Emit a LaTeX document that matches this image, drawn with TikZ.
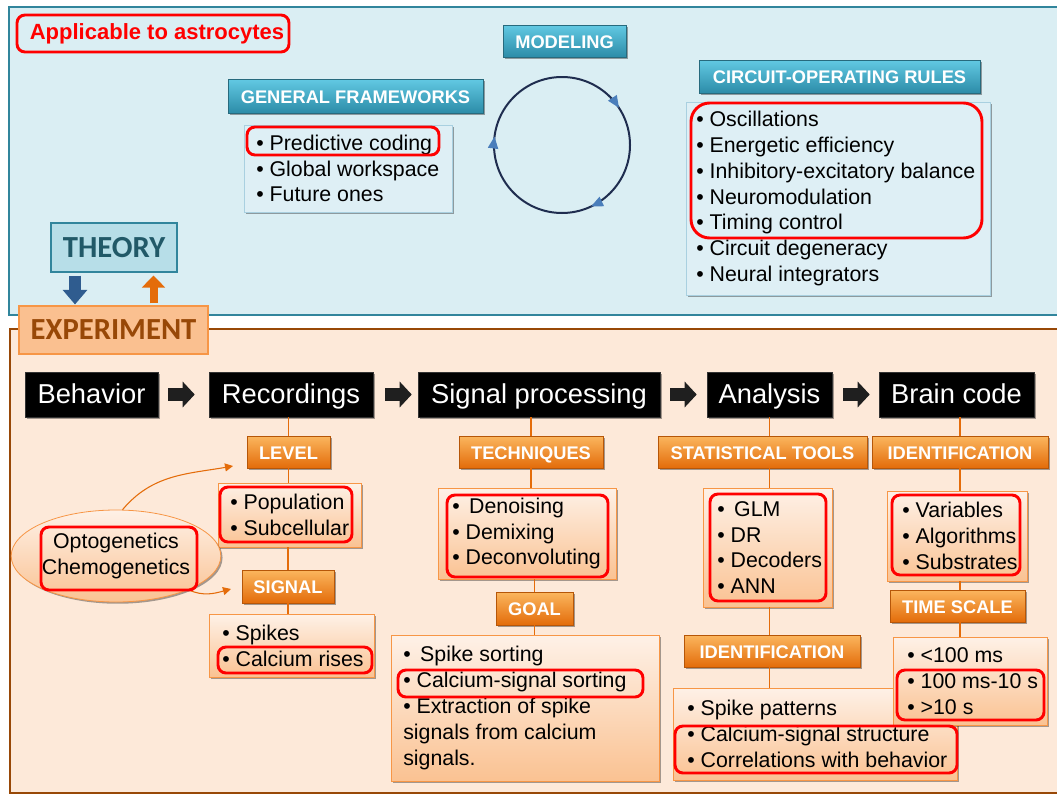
\documentclass[tikz,border=0pt]{standalone}
\usepackage{fontspec}
\setmainfont{Liberation Sans}
\newfontfamily\calfont{Carlito}
\usetikzlibrary{shadows,arrows.meta,decorations.markings,calc,shapes.geometric}
\definecolor{panelblue}{HTML}{DAEEF3}
\definecolor{tealborder}{HTML}{31859C}
\definecolor{tealtop}{HTML}{62C9E3}
\definecolor{tealbot}{HTML}{2C8CA8}
\definecolor{listblue}{HTML}{DEEFF5}
\definecolor{listblueb}{HTML}{A9D0E0}
\definecolor{theoryfill}{HTML}{B7DEE8}
\definecolor{theorytext}{HTML}{215968}
\definecolor{panelorange}{HTML}{FDE9D9}
\definecolor{brownb}{HTML}{984807}
\definecolor{expfill}{HTML}{FAC090}
\definecolor{expborder}{HTML}{F79646}
\definecolor{orgtop}{HTML}{FBB65E}
\definecolor{orgbot}{HTML}{E36C0A}
\definecolor{orgline}{HTML}{E46C0A}
\definecolor{lighttop}{HTML}{FEF1E7}
\definecolor{lightbot}{HTML}{FAC292}
\definecolor{hlred}{HTML}{FF0000}
\definecolor{circnavy}{HTML}{1F2D4F}
\definecolor{circblue}{HTML}{4A7EBB}
\definecolor{downblue}{HTML}{2F5C8F}

\newcommand\lfnt{\fontsize{16}{19.4}\selectfont}
\newcommand\hfnt{\fontsize{13.7}{16}\selectfont\bfseries}
\newcommand\pfnt{\fontsize{20.5}{24}\selectfont}

% name, style, x1, y1, x2, y2, text
\newcommand\mkbox[7]{\node[#2, minimum width={(#5-#3)*0.75pt}, minimum height={(#6-#4)*0.75pt}] (#1) at ({(#3+#5)/2},{(#4+#6)/2}) {#7};}
% name, x1, y1, x2, y2, pad, style, text
\newcommand\mklist[8]{\mkbox{#1}{#7}{#2}{#3}{#4}{#5}{}\node[listtext, anchor=west] (#1t) at ({#2+#6},{(#3+#5)/2}) {#8};}
\newcommand\redbx[5][6pt]{\draw[hl, rounded corners=#1] (#2,#3) rectangle (#4,#5);}

\tikzset{
 shad/.style={drop shadow={shadow xshift=1.3pt, shadow yshift=-1.3pt, opacity=0.35, fill=black}},
 hdrT/.style={draw=tealborder!80!black, line width=0.4pt, top color=tealtop, bottom color=tealbot, text=white, font=\hfnt, inner sep=0, text height=11.5pt, text depth=0.5pt, shad},
 hdrO/.style={draw=orgbot!80!black, line width=0.4pt, top color=orgtop, bottom color=orgbot, text=white, font=\hfnt, inner sep=0, text height=11.5pt, text depth=0.5pt, shad},
 lstT/.style={draw=listblueb, line width=0.6pt, fill=listblue, inner sep=0, shad},
 lstO/.style={draw=expborder, line width=0.6pt, top color=lighttop, bottom color=lightbot, inner sep=0, shad},
 blk/.style={fill=black, draw=black!80, text=white, font=\pfnt, inner sep=0, text height=15pt, text depth=2.25pt, shad},
 listtext/.style={font=\lfnt, align=left, inner sep=0, text=black},
 hl/.style={draw=hlred, line width=2.2pt},
 conn/.style={draw=orgline, line width=1pt},
 blockarr/.style={draw=black!88, line width=9.75pt, -{Triangle[length=9pt,width=18.75pt]}},
 curvarr/.style={draw=orgline, line width=0.8pt, -{Triangle[length=6pt,width=6pt]}},
 circtip/.style={circblue},
}

\begin{document}
\begin{tikzpicture}[x=0.75pt,y=-0.75pt]
\useasboundingbox (0,0) rectangle (1057,796);
\clip (0,0) rectangle (1057,796);
\fill[white] (0,0) rectangle (1057,796);

% panels
\draw[draw=tealborder, line width=2.2pt, fill=panelblue] (9,7) rectangle (1080,315);
\draw[draw=brownb, line width=2.2pt, fill=panelorange] (10,329) rectangle (1080,793);

% astrocytes label
\mkbox{astro}{hl, rounded corners=6pt, text=hlred, font=\fontsize{16.5}{18}\selectfont\bfseries, inner sep=0}{17}{15}{289}{52}{\hspace{6pt}Applicable to astrocytes}

% theory / experiment
\mkbox{theory}{draw=tealborder, line width=0.8pt, fill=theoryfill, text=theorytext, font=\calfont\bfseries\fontsize{23}{26}\selectfont, inner sep=0}{51}{223}{177}{272}{THEORY}
\mkbox{exp}{draw=expborder, line width=0.8pt, fill=expfill, text=brownb, font=\calfont\bfseries\fontsize{23}{26}\selectfont, inner sep=0}{19}{306}{208}{354}{EXPERIMENT}
\draw[draw=downblue, line width=9pt, -{Triangle[length=11pt,width=18pt]}] ($(theory.south)+(-39,3)$) -- ($(exp.north)+(-38.5,-1)$);
\draw[draw=orgline, line width=6pt, -{Triangle[length=9pt,width=17pt]}] ($(exp.north)+(40,-2)$) -- ($(theory.south)+(39.5,3)$);

% top section
\mkbox{model}{hdrT}{503}{25}{626}{57}{MODELING}
\mkbox{genfw}{hdrT}{228}{79}{483}{113}{GENERAL FRAMEWORKS}
\mkbox{circrules}{hdrT}{699}{60}{980}{93}{CIRCUIT-OPERATING RULES}
\mklist{genlist}{244}{125}{452}{212}{12}{lstT}{• Predictive coding\\• Global workspace\\• Future ones}
\mklist{circlist}{686}{102}{990}{295}{10}{lstT}{• Oscillations\\• Energetic efficiency\\• Inhibitory-excitatory balance\\• Neuromodulation\\• Timing control\\• Circuit degeneracy\\• Neural integrators}

\draw[circnavy, line width=1.5pt, postaction={decorate}, decoration={markings,
  mark=at position 0.158 with {\arrow[circtip]{Triangle[length=9pt,width=7.5pt]}},
  mark=at position 0.43 with {\arrow[circtip]{Triangle[length=9pt,width=7.5pt]}},
  mark=at position 0.77 with {\arrow[circtip]{Triangle[length=9pt,width=7.5pt]}}}]
  (562,77) arc[start angle=-90, end angle=270, radius=68];

% pipeline
\mkbox{beh}{blk}{25}{372}{158}{417}{Behavior}
\mkbox{rec}{blk}{209}{372}{373}{417}{Recordings}
\mkbox{sp}{blk}{418}{372}{660}{417}{Signal processing}
\mkbox{ana}{blk}{707}{372}{832}{417}{Analysis}
\mkbox{brain}{blk}{879}{372}{1034}{417}{Brain code}
\draw[blockarr] ([xshift=7.5pt]beh.east) -- ([xshift=-10.5pt]rec.west);
\draw[blockarr] ([xshift=9pt]rec.east) -- ([xshift=-4.5pt]sp.west);
\draw[blockarr] ([xshift=7.5pt]sp.east) -- ([xshift=-7.5pt]ana.west);
\draw[blockarr] ([xshift=8.25pt]ana.east) -- ([xshift=-6.75pt]brain.west);

% orange headers
\mkbox{level}{hdrO}{247}{436}{330}{468}{LEVEL}
\mkbox{signal}{hdrO}{242}{570}{334}{603}{SIGNAL}
\mkbox{tech}{hdrO}{459}{436}{603}{468}{TECHNIQUES}
\mkbox{goal}{hdrO}{496}{592}{573}{625}{GOAL}
\mkbox{stat}{hdrO}{658}{436}{867}{468}{STATISTICAL TOOLS}
\mkbox{identA}{hdrO}{872}{436}{1048}{468}{IDENTIFICATION}
\mkbox{identB}{hdrO}{684}{635}{860}{667}{IDENTIFICATION}
\mkbox{tscale}{hdrO}{890}{590}{1025}{622}{TIME SCALE}

% orange lists
\mklist{pop}{218}{483}{361}{547}{12}{lstO}{• Population\\• Subcellular}
\mklist{spk}{209}{614}{374}{677}{13}{lstO}{• Spikes\\• Calcium rises}
\mklist{den}{438}{488}{616}{579}{14}{lstO}{•\, Denoising\\• Demixing\\• Deconvoluting}
\mklist{goalbox}{391}{635}{659}{781}{12}{lstO}{•\, Spike sorting\\• Calcium-signal sorting\\• Extraction of spike\\signals from calcium\\signals.}
\mklist{glm}{703}{488}{832}{607}{14}{lstO}{•\, GLM\\• DR\\• Decoders\\• ANN}
\mklist{spat}{673}{688}{957}{780}{14}{lstO}{• Spike patterns\\• Calcium-signal structure\\• Correlations with behavior}
\mklist{var}{887}{491}{1027}{581}{15}{lstO}{• Variables\\• Algorithms\\• Substrates}
\mklist{tbox}{893}{637}{1047}{725}{14}{lstO}{• <100 ms\\• 100 ms-10 s\\• >10 s}

% connectors
\draw[conn] (level.north) -- (level.north |- rec.south);
\draw[conn] (level.south) -- (level.south |- pop.north);
\draw[conn] (signal.north) -- (signal.north |- pop.south);
\draw[conn] (signal.south) -- (signal.south |- spk.north);
\draw[conn] (tech.north) -- (tech.north |- sp.south);
\draw[conn] (tech.south) -- (tech.south |- den.north);
\draw[conn] (goal.north) -- (goal.north |- den.south);
\draw[conn] (goal.south) -- (goal.south |- goalbox.north);
\draw[conn] (ana.south) -- (stat.north -| ana.south);
\draw[conn] (stat.south -| ana.south) -- (glm.north -| ana.south);
\draw[conn] (glm.south -| ana.south) -- (identB.north -| ana.south);
\draw[conn] (identB.south -| ana.south) -- (spat.north -| ana.south);
\draw[conn] (identA.north) -- (identA.north |- brain.south);
\draw[conn] (identA.south) -- (identA.south |- var.north);
\draw[conn] (var.south -| identA.south) -- (tscale.north -| identA.south);
\draw[conn] (tscale.south -| identA.south) -- (tbox.north -| identA.south);

% ellipse and curved arrows
\node[ellipse, draw=expborder, line width=0.6pt, top color=lighttop, bottom color=lightbot, minimum width=138pt, minimum height=69pt, inner sep=0, font=\lfnt, align=center, shad] (ell) at (116,556) {Optogenetics\\Chemogenetics};
\coordinate (lvtip) at (233,466);
\coordinate (sgtip) at (231,589);
\draw[curvarr] (ell.82) to[out=50,in=190] (lvtip);
\draw[curvarr] (ell.-25) to[out=-25,in=195] (sgtip);

% red highlights
\redbx{247}{127}{439}{155}
\redbx[14pt]{691}{103}{982}{238}
\redbx{41}{527}{197}{590}
\redbx{220}{487}{352}{542}
\redbx{218}{647}{372}{673}
\redbx{447}{495}{608}{577}
\redbx{398}{670}{643}{697}
\redbx{710}{494}{826}{601}
\redbx{675}{726}{957}{773}
\redbx{892}{495}{1020}{575}
\redbx{897}{670}{1044}{720}
\end{tikzpicture}
\end{document}
